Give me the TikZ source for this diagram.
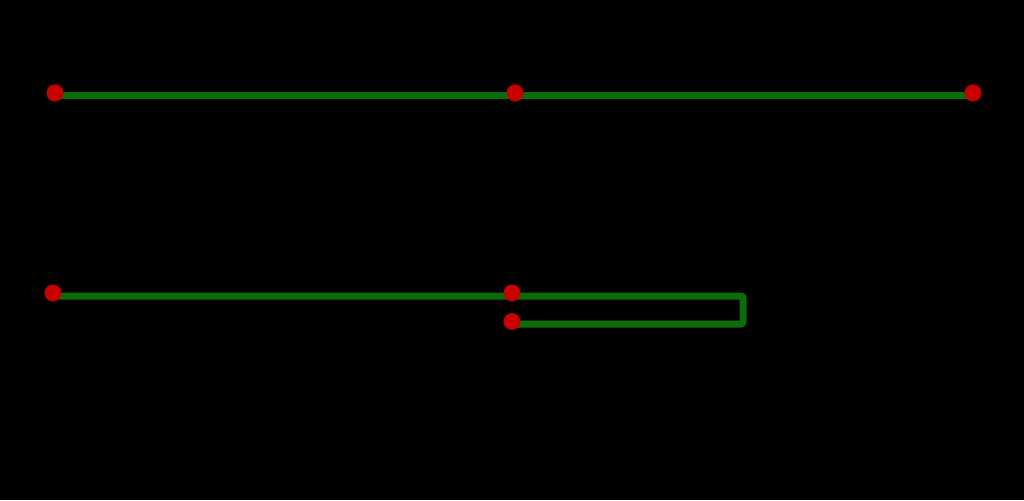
\documentclass[tikz,border=0pt]{standalone}
\definecolor{wire}{RGB}{10,108,10}
\definecolor{pin}{RGB}{200,0,0}
\begin{document}
\begin{tikzpicture}[x=1pt,y=-1pt,
  wireline/.style={draw=wire,line width=7pt,line join=round},
  dot/.style={circle,fill=pin,inner sep=0pt,minimum size=17pt}]
\fill[black] (0,0) rectangle (1024,500);
\useasboundingbox (0,0) rectangle (1024,500);
\coordinate (t1) at (55,95.5);
\coordinate (t2) at (515,95.5);
\coordinate (t3) at (973,95.5);
\coordinate (b1) at (53,296);
\coordinate (b2) at (512,296);
\coordinate (b3) at (743,296);
\coordinate (b4) at (743,324);
\coordinate (b5) at (512,324);
\draw[wireline] (t1) -- (t2) -- (t3);
\draw[wireline,rounded corners=2pt] (b1) -- (b2) -- (b3) -- (b4) -- (b5);
\node[dot] (d1) at (55,93) {};
\node[dot] (d2) at (515,93) {};
\node[dot] (d3) at (973,93) {};
\node[dot] (d4) at (53,293) {};
\node[dot] (d5) at (512,293) {};
\node[dot] (d6) at (512,321.5) {};
\end{tikzpicture}
\end{document}
